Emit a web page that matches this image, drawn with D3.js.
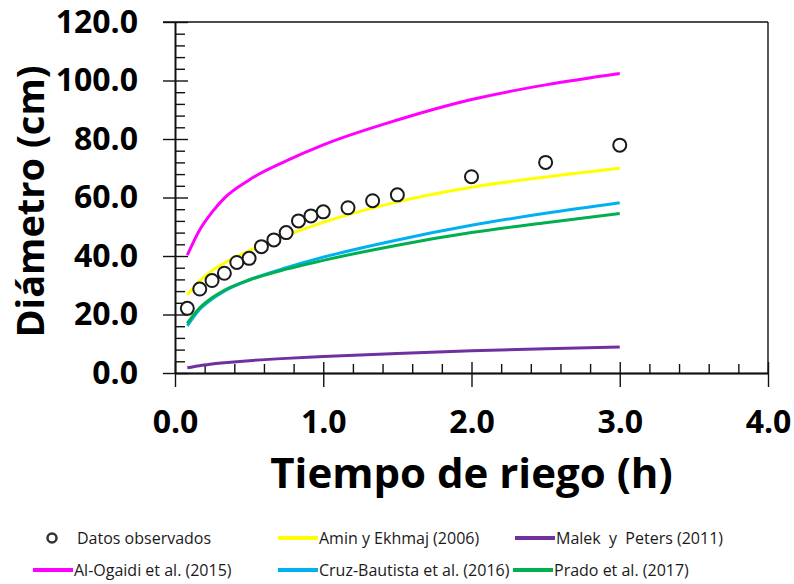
<!DOCTYPE html>
<html>
<head>
<meta charset="utf-8">
<script src="https://cdn.jsdelivr.net/npm/d3@7"></script>
<style>
  body { margin: 0; background: #fff; }
  text { font-family: "Open Sans", "DejaVu Sans", sans-serif; }
</style>
</head>
<body>
<div class="canvas"></div>
<script>
// observed data
const obsTime = [0.083, 0.167, 0.25, 0.333, 0.417, 0.5, 0.583, 0.667, 0.75, 0.833, 0.917, 1.0, 1.167, 1.333, 1.5, 2.0, 2.5, 3.0];
const obsDiam = [22.1, 28.7, 31.6, 34.1, 37.8, 39.2, 43.2, 45.5, 48.0, 52.0, 53.7, 55.1, 56.5, 58.9, 60.9, 67.1, 72.0, 77.9];

// model curves
const modelTime    = [0.083, 0.167, 0.25, 0.333, 0.5, 0.75, 1.0, 1.5, 2.0, 2.5, 3.0];
const aminEkhmaj   = [26.7, 31.5, 35.0, 37.6, 41.8, 47.0, 51.5, 58.5, 63.5, 67.0, 70.0];
const malekPeters  = [1.8, 2.5, 3.1, 3.5, 4.2, 5.0, 5.6, 6.7, 7.6, 8.3, 8.9];
const alOgaidi     = [40.3, 49.0, 55.0, 59.8, 66.0, 72.5, 78.0, 86.5, 93.5, 98.5, 102.4];
const cruzBautista = [16.1, 21.8, 25.3, 28.0, 31.8, 36.0, 39.6, 45.5, 50.5, 54.6, 58.2];
const prado        = [17.0, 22.3, 25.7, 28.3, 31.8, 35.5, 38.5, 43.7, 48.0, 51.4, 54.5];

const seriesNames  = ['Amin y Ekhmaj (2006)', 'Malek  y  Peters (2011)', 'Al-Ogaidi et al. (2015)', 'Cruz-Bautista et al. (2016)', 'Prado et al. (2017)'];
const seriesColors = ['#FFFF00', '#7030A0', '#FF00FF', '#00B0F0', '#00B050'];
const seriesValues = [aminEkhmaj, malekPeters, alOgaidi, cruzBautista, prado];

const xTicks = [0, 1, 2, 3, 4];
const yTicks = [0, 20, 40, 60, 80, 100, 120];

const width = 794, height = 584;

const svg = d3.select('.canvas')
  .append('svg')
  .attr('width', width)
  .attr('height', height);

svg.append('rect').attr('width', width).attr('height', height).attr('fill', '#fff');

const x = d3.scaleLinear().domain([0, 4]).range([175, 768]);
const y = d3.scaleLinear().domain([0, 120]).range([373, 22]);

const xMinor = d3.range(0, 4.001, 0.2).filter(v => Math.abs(v - Math.round(v)) > 0.01);
const yMinor = d3.range(0, 120.1, 4).filter(v => v % 20 !== 0);

// frame (top + right)
svg.append('line')
  .attr('x1', x(0) - 12).attr('x2', x(4))
  .attr('y1', y(120)).attr('y2', y(120))
  .attr('stroke', '#111').attr('stroke-width', 1.4);
svg.append('line')
  .attr('x1', x(4)).attr('x2', x(4))
  .attr('y1', y(120)).attr('y2', y(0))
  .attr('stroke', '#111').attr('stroke-width', 1.4);

// axes
function styleAxis(g) {
  g.selectAll('path, line').attr('stroke', '#111').attr('stroke-width', 1.4);
  g.selectAll('text')
    .attr('fill', '#000')
    .style('font-family', '"Open Sans", sans-serif')
    .style('font-weight', '700')
    .style('font-size', '32px');
}

const yAxisG = svg.append('g').attr('transform', `translate(${x(0)},0)`);
yAxisG.append('g')
  .call(d3.axisLeft(y).tickValues(yMinor).tickSize(-10).tickSizeOuter(0).tickFormat(''))
  .call(styleAxis);
yAxisG.append('g')
  .call(d3.axisLeft(y).tickValues(yTicks).tickSize(-13).tickSizeOuter(0).tickFormat(''))
  .call(styleAxis);
yAxisG.append('g')
  .call(d3.axisLeft(y).tickValues(yTicks).tickSize(12).tickSizeOuter(0).tickPadding(25).tickFormat(d3.format('.1f')))
  .call(styleAxis);

const xAxisG = svg.append('g').attr('transform', `translate(0,${y(0)})`);
xAxisG.append('g')
  .call(d3.axisBottom(x).tickValues(xMinor).tickSize(-9).tickSizeOuter(0).tickFormat(''))
  .call(styleAxis);
xAxisG.append('g')
  .call(d3.axisBottom(x).tickValues(xTicks).tickSize(-11).tickSizeOuter(0).tickFormat(''))
  .call(styleAxis);
xAxisG.append('g')
  .call(d3.axisBottom(x).tickValues(xTicks).tickSize(14).tickSizeOuter(0).tickPadding(23).tickFormat(d3.format('.1f')))
  .call(styleAxis);

// axis titles
svg.append('text')
  .attr('transform', `translate(44,${(y(0) + y(120)) / 2 + 4}) rotate(-90)`)
  .attr('text-anchor', 'middle')
  .style('font-weight', '700')
  .style('font-size', '38px')
  .attr('fill', '#000')
  .text('Diámetro (cm)');

svg.append('text')
  .attr('x', (x(0) + x(4)) / 2)
  .attr('y', 488)
  .attr('text-anchor', 'middle')
  .style('font-weight', '700')
  .style('font-size', '42px')
  .attr('fill', '#000')
  .text('Tiempo de riego (h)');

// model lines
const line = d3.line()
  .curve(d3.curveMonotoneX)
  .x(d => x(d[0]))
  .y(d => y(d[1]));

seriesValues.forEach((vals, i) => {
  svg.append('path')
    .datum(modelTime.map((t, j) => [t, vals[j]]))
    .attr('fill', 'none')
    .attr('stroke', seriesColors[i])
    .attr('stroke-width', 3)
    .attr('d', line);
});

// observed points
svg.append('g').selectAll('circle')
  .data(obsTime.map((t, j) => [t, obsDiam[j]]))
  .enter()
  .append('circle')
    .attr('cx', d => x(d[0]))
    .attr('cy', d => y(d[1]))
    .attr('r', 6.5)
    .attr('fill', '#fff')
    .attr('stroke', '#1a1a1a')
    .attr('stroke-width', 2);

// legend
const legend = svg.append('g').style('font-size', '16px');
const legendItems = [
  { name: 'Datos observados', marker: true, x: 52, y: 538 },
  { name: seriesNames[0], color: seriesColors[0], x: 278, y: 538 },
  { name: seriesNames[1], color: seriesColors[1], x: 515, y: 538 },
  { name: seriesNames[2], color: seriesColors[2], x: 33, y: 570 },
  { name: seriesNames[3], color: seriesColors[3], x: 278, y: 570 },
  { name: seriesNames[4], color: seriesColors[4], x: 513, y: 570 }
];

legendItems.forEach(item => {
  let textX;
  if (item.marker) {
    legend.append('circle')
      .attr('cx', item.x).attr('cy', item.y).attr('r', 4.5)
      .attr('fill', '#fff').attr('stroke', '#333').attr('stroke-width', 2.5);
    textX = item.x + 25;
  } else {
    legend.append('line')
      .attr('x1', item.x).attr('x2', item.x + 40)
      .attr('y1', item.y).attr('y2', item.y)
      .attr('stroke', item.color).attr('stroke-width', 4);
    textX = item.x + 41;
  }
  legend.append('text')
    .attr('x', textX)
    .attr('y', item.y)
    .attr('dy', '0.35em')
    .attr('fill', '#1a1a1a')
    .style('white-space', 'pre')
    .text(item.name);
});
</script>
</body>
</html>
